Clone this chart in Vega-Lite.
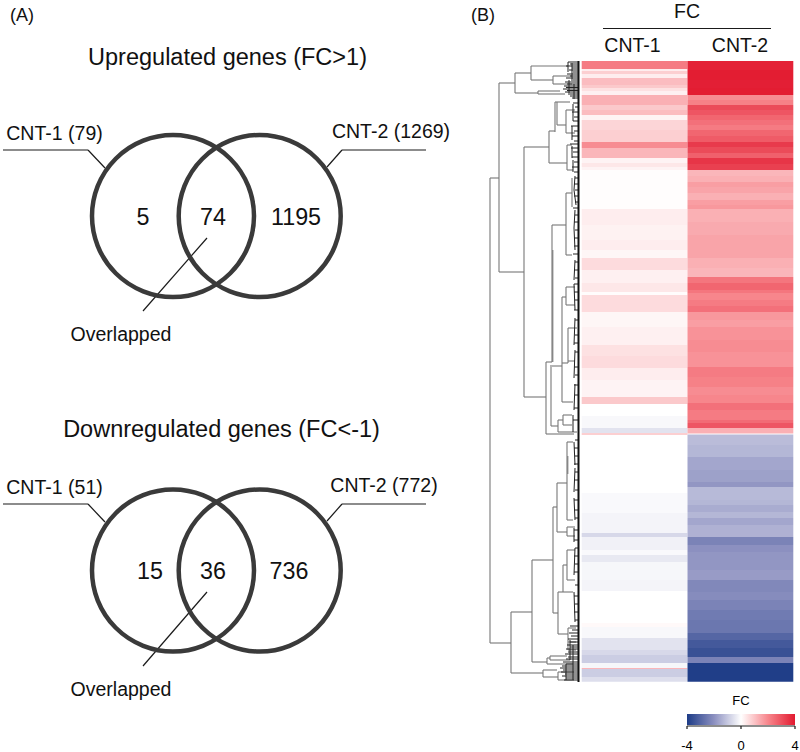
{"$schema":"https://vega.github.io/schema/vega-lite/v6.json","width":800,"height":752,"padding":0,"autosize":{"type":"fit","contains":"padding"},"background":"#ffffff","config":{"view":{"stroke":null},"font":"Liberation Sans","text":{"font":"Liberation Sans"}},
"datasets":{
"heat":[
{"sample":"CNT-1","y0":61,"y1":69,"fc":2.2},{"sample":"CNT-1","y0":69,"y1":71,"fc":0.3},{"sample":"CNT-1","y0":71,"y1":74,"fc":0.8},{"sample":"CNT-1","y0":74,"y1":78,"fc":0.3},{"sample":"CNT-1","y0":78,"y1":85,"fc":1.1},{"sample":"CNT-1","y0":85,"y1":88,"fc":0.9},{"sample":"CNT-1","y0":88,"y1":91,"fc":0.5},{"sample":"CNT-1","y0":91,"y1":95,"fc":0.25},{"sample":"CNT-1","y0":95,"y1":105,"fc":1.3},{"sample":"CNT-1","y0":105,"y1":110,"fc":0.9},{"sample":"CNT-1","y0":110,"y1":115,"fc":1.1},{"sample":"CNT-1","y0":115,"y1":120,"fc":0.2},{"sample":"CNT-1","y0":120,"y1":130,"fc":0.7},{"sample":"CNT-1","y0":130,"y1":142,"fc":0.8},{"sample":"CNT-1","y0":142,"y1":148,"fc":1.9},{"sample":"CNT-1","y0":148,"y1":158,"fc":1.2},{"sample":"CNT-1","y0":158,"y1":163,"fc":0.2},{"sample":"CNT-1","y0":163,"y1":167,"fc":0.4},{"sample":"CNT-1","y0":167,"y1":170,"fc":0.2},{"sample":"CNT-1","y0":170,"y1":209,"fc":0.03},{"sample":"CNT-1","y0":209,"y1":225,"fc":0.3},{"sample":"CNT-1","y0":225,"y1":240,"fc":0.22},{"sample":"CNT-1","y0":240,"y1":250,"fc":0.3},{"sample":"CNT-1","y0":250,"y1":258,"fc":0.15},{"sample":"CNT-1","y0":258,"y1":270,"fc":0.6},{"sample":"CNT-1","y0":270,"y1":283,"fc":0.25},{"sample":"CNT-1","y0":283,"y1":292,"fc":0.4},{"sample":"CNT-1","y0":292,"y1":295,"fc":0.05},{"sample":"CNT-1","y0":295,"y1":312,"fc":0.6},{"sample":"CNT-1","y0":312,"y1":327,"fc":0.15},{"sample":"CNT-1","y0":327,"y1":345,"fc":0.25},{"sample":"CNT-1","y0":345,"y1":356,"fc":0.5},{"sample":"CNT-1","y0":356,"y1":368,"fc":0.6},{"sample":"CNT-1","y0":368,"y1":380,"fc":0.3},{"sample":"CNT-1","y0":380,"y1":397,"fc":0.2},{"sample":"CNT-1","y0":397,"y1":404,"fc":0.9},{"sample":"CNT-1","y0":404,"y1":416,"fc":0},{"sample":"CNT-1","y0":416,"y1":428,"fc":-0.12},{"sample":"CNT-1","y0":428,"y1":433,"fc":-0.5},{"sample":"CNT-1","y0":433,"y1":435,"fc":0.8},{"sample":"CNT-1","y0":435,"y1":493,"fc":0},{"sample":"CNT-1","y0":493,"y1":513,"fc":-0.1},{"sample":"CNT-1","y0":513,"y1":533,"fc":-0.2},{"sample":"CNT-1","y0":533,"y1":537,"fc":-0.7},{"sample":"CNT-1","y0":537,"y1":550,"fc":-0.25},{"sample":"CNT-1","y0":550,"y1":555,"fc":-0.1},{"sample":"CNT-1","y0":555,"y1":562,"fc":-0.4},{"sample":"CNT-1","y0":562,"y1":580,"fc":-0.15},{"sample":"CNT-1","y0":580,"y1":591,"fc":-0.2},{"sample":"CNT-1","y0":591,"y1":623,"fc":0},{"sample":"CNT-1","y0":623,"y1":627,"fc":0.1},{"sample":"CNT-1","y0":627,"y1":638,"fc":-0.12},{"sample":"CNT-1","y0":638,"y1":650,"fc":-0.5},{"sample":"CNT-1","y0":650,"y1":655,"fc":-0.7},{"sample":"CNT-1","y0":655,"y1":663,"fc":-0.9},{"sample":"CNT-1","y0":663,"y1":668,"fc":-0.15},{"sample":"CNT-1","y0":668,"y1":669,"fc":1.2},{"sample":"CNT-1","y0":669,"y1":677,"fc":-0.9},{"sample":"CNT-1","y0":677,"y1":681.7,"fc":-0.6},
{"sample":"CNT-2","y0":61,"y1":70,"fc":3.85},{"sample":"CNT-2","y0":70,"y1":80,"fc":3.95},{"sample":"CNT-2","y0":80,"y1":88,"fc":3.9},{"sample":"CNT-2","y0":88,"y1":95,"fc":3.95},{"sample":"CNT-2","y0":95,"y1":100,"fc":1.9},{"sample":"CNT-2","y0":100,"y1":105,"fc":2.1},{"sample":"CNT-2","y0":105,"y1":110,"fc":3.1},{"sample":"CNT-2","y0":110,"y1":115,"fc":2.9},{"sample":"CNT-2","y0":115,"y1":120,"fc":2.6},{"sample":"CNT-2","y0":120,"y1":125,"fc":2.4},{"sample":"CNT-2","y0":125,"y1":130,"fc":2.2},{"sample":"CNT-2","y0":130,"y1":136,"fc":2.6},{"sample":"CNT-2","y0":136,"y1":142,"fc":2.8},{"sample":"CNT-2","y0":142,"y1":147,"fc":3.4},{"sample":"CNT-2","y0":147,"y1":153,"fc":3.1},{"sample":"CNT-2","y0":153,"y1":158,"fc":2.7},{"sample":"CNT-2","y0":158,"y1":164,"fc":3.5},{"sample":"CNT-2","y0":164,"y1":170,"fc":3.3},{"sample":"CNT-2","y0":170,"y1":176,"fc":1.2},{"sample":"CNT-2","y0":176,"y1":182,"fc":1.3},{"sample":"CNT-2","y0":182,"y1":187,"fc":1.6},{"sample":"CNT-2","y0":187,"y1":193,"fc":1.5},{"sample":"CNT-2","y0":193,"y1":200,"fc":1.3},{"sample":"CNT-2","y0":200,"y1":205,"fc":1.6},{"sample":"CNT-2","y0":205,"y1":209,"fc":1.7},{"sample":"CNT-2","y0":209,"y1":222,"fc":1.3},{"sample":"CNT-2","y0":222,"y1":235,"fc":1.4},{"sample":"CNT-2","y0":235,"y1":250,"fc":1.5},{"sample":"CNT-2","y0":250,"y1":258,"fc":1.5},{"sample":"CNT-2","y0":258,"y1":268,"fc":1.3},{"sample":"CNT-2","y0":268,"y1":277,"fc":1.2},{"sample":"CNT-2","y0":277,"y1":283,"fc":2.3},{"sample":"CNT-2","y0":283,"y1":290,"fc":2.6},{"sample":"CNT-2","y0":290,"y1":293,"fc":2.3},{"sample":"CNT-2","y0":293,"y1":300,"fc":2.0},{"sample":"CNT-2","y0":300,"y1":306,"fc":2.2},{"sample":"CNT-2","y0":306,"y1":312,"fc":2.4},{"sample":"CNT-2","y0":312,"y1":320,"fc":1.7},{"sample":"CNT-2","y0":320,"y1":327,"fc":1.6},{"sample":"CNT-2","y0":327,"y1":340,"fc":1.8},{"sample":"CNT-2","y0":340,"y1":352,"fc":1.9},{"sample":"CNT-2","y0":352,"y1":367,"fc":1.8},{"sample":"CNT-2","y0":367,"y1":377,"fc":2.2},{"sample":"CNT-2","y0":377,"y1":387,"fc":2.1},{"sample":"CNT-2","y0":387,"y1":395,"fc":1.9},{"sample":"CNT-2","y0":395,"y1":403,"fc":2.0},{"sample":"CNT-2","y0":403,"y1":410,"fc":2.4},{"sample":"CNT-2","y0":410,"y1":420,"fc":2.2},{"sample":"CNT-2","y0":420,"y1":423,"fc":2.5},{"sample":"CNT-2","y0":423,"y1":428,"fc":2.9},{"sample":"CNT-2","y0":428,"y1":433.5,"fc":1.3},{"sample":"CNT-2","y0":434.5,"y1":445,"fc":-1.2},{"sample":"CNT-2","y0":445,"y1":457,"fc":-1.3},{"sample":"CNT-2","y0":457,"y1":470,"fc":-1.6},{"sample":"CNT-2","y0":470,"y1":482,"fc":-1.7},{"sample":"CNT-2","y0":482,"y1":487,"fc":-1.9},{"sample":"CNT-2","y0":487,"y1":500,"fc":-1.25},{"sample":"CNT-2","y0":500,"y1":505,"fc":-1.3},{"sample":"CNT-2","y0":505,"y1":512,"fc":-1.5},{"sample":"CNT-2","y0":512,"y1":518,"fc":-1.3},{"sample":"CNT-2","y0":518,"y1":525,"fc":-1.6},{"sample":"CNT-2","y0":525,"y1":537,"fc":-1.4},{"sample":"CNT-2","y0":537,"y1":545,"fc":-2.3},{"sample":"CNT-2","y0":545,"y1":552,"fc":-2.0},{"sample":"CNT-2","y0":552,"y1":560,"fc":-1.9},{"sample":"CNT-2","y0":560,"y1":570,"fc":-1.9},{"sample":"CNT-2","y0":570,"y1":580,"fc":-1.8},{"sample":"CNT-2","y0":580,"y1":592,"fc":-2.2},{"sample":"CNT-2","y0":592,"y1":600,"fc":-2.1},{"sample":"CNT-2","y0":600,"y1":610,"fc":-2.3},{"sample":"CNT-2","y0":610,"y1":620,"fc":-2.5},{"sample":"CNT-2","y0":620,"y1":633,"fc":-2.6},{"sample":"CNT-2","y0":633,"y1":640,"fc":-3.0},{"sample":"CNT-2","y0":640,"y1":648,"fc":-3.3},{"sample":"CNT-2","y0":648,"y1":657,"fc":-3.5},{"sample":"CNT-2","y0":657,"y1":663,"fc":-2.3},{"sample":"CNT-2","y0":663,"y1":681.7,"fc":-3.95}
],
"circles":[{"x":173,"y":216},{"x":259.7,"y":216},{"x":173,"y":570.5},{"x":259.7,"y":570.5}],
"leaders":[
{"x":3,"y":150,"x2":88,"y2":150},{"x":88,"y":150,"x2":105,"y2":168},{"x":426,"y":150,"x2":342,"y2":150},{"x":342,"y":150,"x2":327,"y2":167},{"x":207,"y":238,"x2":143,"y2":311},
{"x":3,"y":504,"x2":88,"y2":504},{"x":88,"y":504,"x2":105,"y2":522},{"x":426,"y":504,"x2":342,"y2":504},{"x":342,"y":504,"x2":327,"y2":521},{"x":207,"y":592,"x2":143,"y2":666},
{"x":603,"y":28.5,"x2":771,"y2":28.5},
{"x":687,"y":726,"x2":795,"y2":726},{"x":687,"y":726,"x2":687,"y2":729},{"x":741,"y":726,"x2":741,"y2":729},{"x":795,"y":726,"x2":795,"y2":729}
],
"tree":[
{"x":490,"y":178,"x2":490,"y2":643},{"x":490,"y":178,"x2":499,"y2":178},{"x":499,"y":83,"x2":499,"y2":272},{"x":499,"y":83,"x2":515,"y2":83},{"x":515,"y":73,"x2":515,"y2":93},{"x":515,"y":73,"x2":531,"y2":73},{"x":531,"y":66,"x2":531,"y2":80},{"x":531,"y":66,"x2":568,"y2":66},{"x":531,"y":80,"x2":553,"y2":80},{"x":553,"y":76,"x2":553,"y2":84},{"x":553,"y":76,"x2":572,"y2":76},{"x":553,"y":84,"x2":572,"y2":84},{"x":515,"y":93,"x2":538,"y2":93},{"x":538,"y":91,"x2":538,"y2":94},{"x":538,"y":91,"x2":560,"y2":91},{"x":538,"y":94,"x2":565,"y2":94},
{"x":499,"y":272,"x2":524,"y2":272},{"x":524,"y":147,"x2":524,"y2":397},{"x":524,"y":147,"x2":549,"y2":147},{"x":549,"y":131,"x2":549,"y2":163},{"x":549,"y":131,"x2":555,"y2":131},{"x":555,"y":102,"x2":555,"y2":132},{"x":557,"y":102,"x2":557,"y2":125},{"x":555,"y":102,"x2":570,"y2":102},{"x":557,"y":125,"x2":566,"y2":125},{"x":566,"y":110,"x2":566,"y2":133},{"x":566,"y":110,"x2":575,"y2":110},{"x":566,"y":133,"x2":575,"y2":133},{"x":549,"y":163,"x2":567,"y2":163},{"x":567,"y":145,"x2":567,"y2":170},{"x":567,"y":145,"x2":572,"y2":145},{"x":567,"y":170,"x2":573,"y2":170},
{"x":524,"y":397,"x2":546,"y2":397},{"x":546,"y":362,"x2":546,"y2":434},{"x":546,"y":362,"x2":552,"y2":362},{"x":552,"y":225,"x2":552,"y2":362},{"x":552.8,"y":250,"x2":552.8,"y2":362},{"x":552,"y":225,"x2":566,"y2":225},{"x":566,"y":193,"x2":566,"y2":255},{"x":566,"y":193,"x2":572,"y2":193},{"x":572,"y":178,"x2":572,"y2":207},{"x":566,"y":255,"x2":572,"y2":255},{"x":552,"y":366,"x2":562,"y2":366},{"x":562,"y":297,"x2":562,"y2":402},{"x":562,"y":297,"x2":566,"y2":297},{"x":566,"y":287,"x2":566,"y2":305},{"x":566,"y":287,"x2":575,"y2":287},{"x":566,"y":305,"x2":575,"y2":305},{"x":562,"y":363,"x2":568,"y2":363},{"x":568,"y":328,"x2":568,"y2":363},{"x":568,"y":328,"x2":577,"y2":328},{"x":568,"y":361,"x2":575,"y2":361},{"x":562,"y":402,"x2":573,"y2":402},{"x":551,"y":365,"x2":551,"y2":426},{"x":551,"y":426,"x2":558,"y2":426},{"x":558,"y":420,"x2":558,"y2":432},{"x":558,"y":420,"x2":563,"y2":420},{"x":563,"y":415,"x2":563,"y2":425},{"x":563,"y":415,"x2":572,"y2":415},{"x":563,"y":425,"x2":572,"y2":425},{"x":558,"y":432,"x2":577,"y2":432},{"x":546,"y":434,"x2":574,"y2":434},
{"x":490,"y":643,"x2":511,"y2":643},{"x":511,"y":612,"x2":511,"y2":673},{"x":511,"y":612,"x2":532,"y2":612},{"x":532,"y":560,"x2":532,"y2":662},{"x":532,"y":560,"x2":553,"y2":560},{"x":553,"y":507,"x2":553,"y2":613},{"x":553,"y":507,"x2":557,"y2":507},{"x":557,"y":483,"x2":557,"y2":532},{"x":557,"y":483,"x2":567,"y2":483},{"x":567,"y":442,"x2":567,"y2":520},{"x":567.8,"y":456,"x2":567.8,"y2":474},{"x":567,"y":442,"x2":573,"y2":442},{"x":567,"y":520,"x2":573,"y2":520},{"x":557,"y":532,"x2":567,"y2":532},{"x":567,"y":527,"x2":567,"y2":536},{"x":567,"y":527,"x2":575,"y2":527},{"x":567,"y":536,"x2":575,"y2":536},
{"x":553,"y":613,"x2":558,"y2":613},{"x":558,"y":592,"x2":558,"y2":634},{"x":558,"y":592,"x2":573,"y2":592},{"x":563,"y":565,"x2":563,"y2":592},{"x":563,"y":565,"x2":567,"y2":565},{"x":567,"y":550,"x2":567,"y2":580},{"x":567,"y":550,"x2":575,"y2":550},{"x":567,"y":580,"x2":575,"y2":580},{"x":558,"y":634,"x2":568,"y2":634},{"x":568,"y":628,"x2":568,"y2":650},{"x":568,"y":628,"x2":576,"y2":628},{"x":568,"y":642,"x2":576,"y2":642},{"x":568,"y":650,"x2":576,"y2":650},
{"x":532,"y":662,"x2":547,"y2":662},{"x":547,"y":658,"x2":547,"y2":664},{"x":547,"y":658,"x2":550,"y2":658},{"x":550,"y":656,"x2":550,"y2":660},{"x":550,"y":656,"x2":567,"y2":656},{"x":550,"y":660,"x2":570,"y2":660},{"x":547,"y":664,"x2":573,"y2":664},{"x":511,"y":673,"x2":543,"y2":673},{"x":543,"y":670,"x2":543,"y2":677},{"x":543,"y":670,"x2":557,"y2":670},{"x":543,"y":677,"x2":558,"y2":677},{"x":558,"y":672,"x2":558,"y2":680},{"x":558,"y":672,"x2":574,"y2":672},{"x":558,"y":680,"x2":574,"y2":680}
],
"stubs":[
{"x":568,"y":62,"x2":578,"y2":62},{"x":570,"y":64,"x2":578,"y2":64},{"x":566,"y":66,"x2":578,"y2":66},{"x":572,"y":68,"x2":578,"y2":68},{"x":569,"y":70,"x2":578,"y2":70},{"x":573,"y":72,"x2":578,"y2":72},{"x":567,"y":74,"x2":578,"y2":74},{"x":570,"y":76,"x2":578,"y2":76},{"x":566,"y":78,"x2":578,"y2":78},{"x":571,"y":80,"x2":578,"y2":80},{"x":565,"y":82,"x2":578,"y2":82},{"x":567,"y":84,"x2":578,"y2":84},{"x":564,"y":86,"x2":578,"y2":86},{"x":566,"y":87.5,"x2":578,"y2":87.5},{"x":563,"y":89,"x2":578,"y2":89},{"x":567,"y":90.5,"x2":578,"y2":90.5},{"x":565,"y":92,"x2":578,"y2":92},{"x":568,"y":94,"x2":578,"y2":94},{"x":570,"y":96,"x2":578,"y2":96},{"x":572,"y":98,"x2":578,"y2":98},
{"x":568,"y":62,"x2":568,"y2":72},{"x":572,"y":63,"x2":572,"y2":79},{"x":569,"y":80,"x2":569,"y2":93},{"x":574,"y":84,"x2":574,"y2":99},
{"x":573,"y":103,"x2":578,"y2":103},{"x":575,"y":107,"x2":578,"y2":107},{"x":572,"y":112,"x2":578,"y2":112},{"x":574,"y":117,"x2":578,"y2":117},{"x":573,"y":121,"x2":578,"y2":121},{"x":571,"y":126,"x2":578,"y2":126},{"x":574,"y":131,"x2":578,"y2":131},{"x":572,"y":136,"x2":578,"y2":136},{"x":574,"y":141,"x2":578,"y2":141},{"x":570,"y":144,"x2":578,"y2":144},{"x":571,"y":148,"x2":578,"y2":148},{"x":573,"y":152,"x2":578,"y2":152},{"x":572,"y":157,"x2":578,"y2":157},{"x":574,"y":162,"x2":578,"y2":162},{"x":572,"y":167,"x2":578,"y2":167},{"x":574,"y":172,"x2":578,"y2":172},
{"x":573,"y":104,"x2":573,"y2":121},{"x":572,"y":126,"x2":572,"y2":140},{"x":572,"y":146,"x2":572,"y2":158},{"x":573,"y":160,"x2":573,"y2":172},
{"x":575,"y":178,"x2":578,"y2":178},{"x":574,"y":184,"x2":578,"y2":184},{"x":575,"y":190,"x2":578,"y2":190},{"x":574,"y":196,"x2":578,"y2":196},{"x":575,"y":202,"x2":578,"y2":202},{"x":573,"y":208,"x2":578,"y2":208},{"x":575,"y":215,"x2":578,"y2":215},{"x":574,"y":222,"x2":578,"y2":222},{"x":575,"y":230,"x2":578,"y2":230},{"x":574,"y":238,"x2":578,"y2":238},{"x":574,"y":246,"x2":578,"y2":246},{"x":573,"y":254,"x2":578,"y2":254},{"x":575,"y":262,"x2":578,"y2":262},{"x":574,"y":270,"x2":578,"y2":270},{"x":575,"y":278,"x2":578,"y2":278},{"x":574,"y":284,"x2":578,"y2":284},{"x":574,"y":292,"x2":578,"y2":292},{"x":575,"y":300,"x2":578,"y2":300},{"x":574,"y":310,"x2":578,"y2":310},{"x":575,"y":320,"x2":578,"y2":320},{"x":575,"y":335,"x2":578,"y2":335},{"x":574,"y":343,"x2":578,"y2":343},{"x":575,"y":352,"x2":578,"y2":352},{"x":574,"y":367,"x2":578,"y2":367},{"x":575,"y":375,"x2":578,"y2":375},{"x":574,"y":385,"x2":578,"y2":385},{"x":575,"y":395,"x2":578,"y2":395},{"x":574,"y":408,"x2":578,"y2":408},{"x":573,"y":420,"x2":578,"y2":420},
{"x":575,"y":176,"x2":574,"y2":190},{"x":574,"y":190,"x2":576,"y2":205},{"x":575,"y":210,"x2":574,"y2":228},{"x":574,"y":228,"x2":575,"y2":250},{"x":575,"y":260,"x2":574,"y2":280},{"x":574,"y":284,"x2":575,"y2":310},{"x":575,"y":318,"x2":574,"y2":345},{"x":575,"y":350,"x2":574,"y2":378},{"x":575,"y":384,"x2":574,"y2":410},{"x":573,"y":415,"x2":573,"y2":432},
{"x":575,"y":440,"x2":578,"y2":440},{"x":574,"y":448,"x2":578,"y2":448},{"x":575,"y":456,"x2":578,"y2":456},{"x":574,"y":464,"x2":578,"y2":464},{"x":575,"y":472,"x2":578,"y2":472},{"x":574,"y":480,"x2":578,"y2":480},{"x":575,"y":490,"x2":578,"y2":490},{"x":574,"y":500,"x2":578,"y2":500},{"x":574,"y":510,"x2":578,"y2":510},{"x":575,"y":518,"x2":578,"y2":518},{"x":574,"y":530,"x2":578,"y2":530},{"x":574,"y":540,"x2":578,"y2":540},{"x":575,"y":548,"x2":578,"y2":548},{"x":574,"y":556,"x2":578,"y2":556},{"x":575,"y":564,"x2":578,"y2":564},{"x":574,"y":572,"x2":578,"y2":572},{"x":575,"y":585,"x2":578,"y2":585},{"x":574,"y":596,"x2":578,"y2":596},{"x":575,"y":604,"x2":578,"y2":604},{"x":574,"y":612,"x2":578,"y2":612},{"x":575,"y":620,"x2":578,"y2":620},
{"x":574,"y":442,"x2":575,"y2":465},{"x":575,"y":468,"x2":574,"y2":492},{"x":574,"y":498,"x2":575,"y2":520},{"x":574,"y":528,"x2":574,"y2":542},{"x":575,"y":548,"x2":574,"y2":575},{"x":574,"y":592,"x2":575,"y2":622},
{"x":570,"y":626,"x2":578,"y2":626},{"x":572,"y":630,"x2":578,"y2":630},{"x":569,"y":633,"x2":578,"y2":633},{"x":571,"y":636,"x2":578,"y2":636},{"x":568,"y":639,"x2":578,"y2":639},{"x":570,"y":642,"x2":578,"y2":642},{"x":567,"y":645,"x2":578,"y2":645},{"x":570,"y":647,"x2":578,"y2":647},{"x":566,"y":649,"x2":578,"y2":649},{"x":568,"y":652,"x2":578,"y2":652},{"x":565,"y":654,"x2":578,"y2":654},{"x":568,"y":657,"x2":578,"y2":657},{"x":566,"y":659,"x2":578,"y2":659},{"x":563,"y":662,"x2":578,"y2":662},{"x":566,"y":664,"x2":578,"y2":664},{"x":562,"y":666,"x2":578,"y2":666},{"x":560,"y":668,"x2":578,"y2":668},{"x":563,"y":670,"x2":578,"y2":670},{"x":561,"y":672,"x2":578,"y2":672},{"x":565,"y":674,"x2":578,"y2":674},{"x":562,"y":676,"x2":578,"y2":676},{"x":566,"y":678,"x2":578,"y2":678},{"x":564,"y":680,"x2":578,"y2":680},
{"x":570,"y":640,"x2":570,"y2":660},{"x":573,"y":645,"x2":573,"y2":680},{"x":566,"y":664,"x2":566,"y2":680}
],
"spine":[{"x":578.5,"y":61,"x2":578.5,"y2":682}],
"titles":[{"x":227.5,"y":58,"label":"Upregulated genes (FC>1)"},{"x":221.5,"y":430,"label":"Downregulated genes (FC<-1)"}],
"counts":[{"x":143,"y":218,"label":"5"},{"x":213,"y":218,"label":"74"},{"x":296,"y":218,"label":"1195"},{"x":150,"y":572,"label":"15"},{"x":213,"y":572,"label":"36"},{"x":289,"y":572,"label":"736"}],
"sets":[{"x":54.5,"y":134,"label":"CNT-1 (79)"},{"x":391,"y":132,"label":"CNT-2 (1269)"},{"x":54.5,"y":488,"label":"CNT-1 (51)"},{"x":384,"y":486,"label":"CNT-2 (772)"},{"x":121,"y":335,"label":"Overlapped"},{"x":121,"y":690,"label":"Overlapped"},{"x":632.5,"y":46,"label":"CNT-1"},{"x":740,"y":46,"label":"CNT-2"},{"x":687,"y":11.5,"label":"FC"}],
"panels":[{"x":22,"y":16,"label":"(A)"},{"x":483,"y":16,"label":"(B)"}]
},
"layer":[
{"data":{"name":"heat"},"mark":{"type":"rect","strokeWidth":0},"encoding":{
"x":{"field":"sample","type":"nominal","axis":null,"scale":{"domain":["CNT-1","CNT-2"],"range":[581.7,793.3],"paddingInner":0,"paddingOuter":0}},
"y":{"field":"y0","type":"quantitative","axis":null,"scale":{"domain":[752,0],"nice":false,"zero":false}},"y2":{"field":"y1"},
"color":{"field":"fc","type":"quantitative","scale":{"domain":[-4,-2,0,2,4],"range":["#1d3c87","#8c90c0","#ffffff","#f7868c","#e21a30"],"interpolate":"rgb"},
"legend":{"orient":"none","legendX":687,"legendY":695,"direction":"horizontal","title":"FC","values":[-4,0,4],"labelExpr":"datum.value + ''","gradientLength":108,"gradientThickness":11,"titleFontSize":13,"labelFontSize":13,"titleFontWeight":"normal","titleFont":"Liberation Sans","labelFont":"Liberation Sans","titleColor":"#000000","labelColor":"#000000","titleAnchor":"middle","titlePadding":6,"labelOffset":15,"labelOverlap":false,"encode":{"labels":{"update":{"align":{"value":"center"}}}}}}}},
{"encoding":{"x":{"field":"x","type":"quantitative","axis":null,"scale":{"domain":[0,800],"nice":false,"zero":false}},"y":{"field":"y","type":"quantitative","axis":null,"scale":{"domain":[752,0],"nice":false,"zero":false}}},
"layer":[
{"data":{"name":"tree"},"mark":{"type":"rule","color":"#777777","strokeWidth":1.1},"encoding":{"x2":{"field":"x2"},"y2":{"field":"y2"}}},
{"data":{"name":"stubs"},"mark":{"type":"rule","color":"#222222","strokeWidth":1},"encoding":{"x2":{"field":"x2"},"y2":{"field":"y2"}}},
{"data":{"name":"spine"},"mark":{"type":"rule","color":"#111111","strokeWidth":2},"encoding":{"x2":{"field":"x2"},"y2":{"field":"y2"}}},
{"data":{"name":"leaders"},"mark":{"type":"rule","color":"#1a1a1a","strokeWidth":1.2},"encoding":{"x2":{"field":"x2"},"y2":{"field":"y2"}}},
{"data":{"name":"circles"},"mark":{"type":"point","shape":"circle","filled":false,"size":26244,"stroke":"#3a3a3a","strokeWidth":4.5,"opacity":1}},
{"data":{"name":"titles"},"mark":{"type":"text","fontSize":23.5,"align":"center","baseline":"middle","color":"#111111"},"encoding":{"text":{"field":"label"}}},
{"data":{"name":"counts"},"mark":{"type":"text","fontSize":23.3,"align":"center","baseline":"middle","color":"#111111"},"encoding":{"text":{"field":"label"}}},
{"data":{"name":"sets"},"mark":{"type":"text","fontSize":19.5,"align":"center","baseline":"middle","color":"#111111"},"encoding":{"text":{"field":"label"}}},
{"data":{"name":"panels"},"mark":{"type":"text","fontSize":18,"align":"center","baseline":"middle","color":"#111111"},"encoding":{"text":{"field":"label"}}}
]}
],
"resolve":{"scale":{"x":"independent"}}
}
